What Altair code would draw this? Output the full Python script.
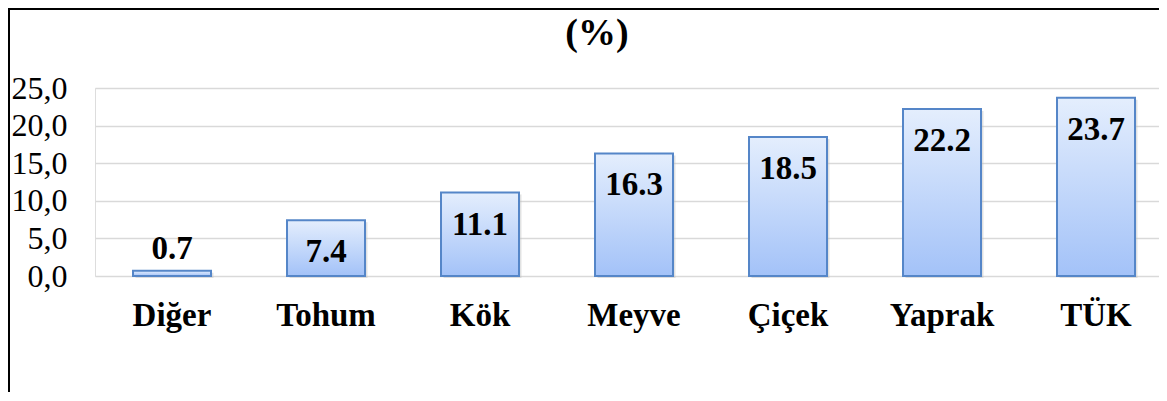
import altair as alt
import pandas as pd

categories = ["Diğer", "Tohum", "Kök", "Meyve", "Çiçek", "Yaprak", "TÜK"]
values = [0.7, 7.4, 11.1, 16.3, 18.5, 22.2, 23.7]
labels = ["0.7", "7.4", "11.1", "16.3", "18.5", "22.2", "23.7"]
y_ticks = [0, 5, 10, 15, 20, 25]
title_text = "(%)"

df = pd.DataFrame({"cat": categories, "val": values, "lab": labels})

FONT = "Liberation Serif"
W, H = 1064, 188

xscale = alt.Scale(paddingInner=0.4935, paddingOuter=0.2013, align=0.613)
yscale = alt.Scale(domain=[0, 25], nice=False)

x = alt.X("cat:N", sort=None, scale=xscale,
          axis=alt.Axis(title=None, labelAngle=0, ticks=False, domain=False,
                        labelFont=FONT, labelFontSize=33, labelFontWeight="bold",
                        labelColor="black", labelBaseline="alphabetic",
                        labelPadding=49))
y = alt.Y("val:Q", scale=yscale,
          axis=alt.Axis(title=None, values=y_ticks, ticks=False, domain=False,
                        grid=True, gridColor="#d9d9d9", gridWidth=1.5,
                        labelExpr="replace(format(datum.value, '.1f'), '.', ',')",
                        labelFont=FONT, labelFontSize=32, labelColor="black",
                        labelPadding=28))

base = alt.Chart(df)

shadow = base.mark_bar(color="#bfbfbf", opacity=0.45, xOffset=2.5, yOffset=2).encode(
    x=x, y=y)

grad = alt.Gradient(gradient="linear", x1=0, x2=0, y1=0, y2=1,
                    stops=[alt.GradientStop(color="#e4eefd", offset=0),
                           alt.GradientStop(color="#a3c2f8", offset=1)])
bars = base.mark_bar(color=grad, stroke="#5586c8", strokeWidth=2).encode(
    x=x, y=y)

txt_in = base.transform_filter("datum.val >= 5").mark_text(
    font=FONT, fontSize=33, fontWeight="bold", color="black",
    baseline="alphabetic", dy=42).encode(x=x, y=y, text="lab:N")
txt_out = base.transform_filter("datum.val < 5").mark_text(
    font=FONT, fontSize=33, fontWeight="bold", color="black",
    baseline="alphabetic", dy=-12).encode(x=x, y=y, text="lab:N")

title = alt.Chart(pd.DataFrame({"t": [title_text]})).mark_text(
    font=FONT, fontSize=38, fontWeight="bold", color="black",
    baseline="alphabetic", align="center").encode(
    text="t:N", x=alt.value(502), y=alt.value(-43))

border_left = alt.Chart(pd.DataFrame({"t": [title_text]})).mark_rule(
    color="black", strokeWidth=2).encode(
    x=alt.value(-86), y=alt.value(-80), y2=alt.value(310))
border_top = alt.Chart(pd.DataFrame({"t": [title_text]})).mark_rule(
    color="black", strokeWidth=2).encode(
    x=alt.value(-87), x2=alt.value(W + 10), y=alt.value(-79))

chart = alt.layer(shadow, bars, txt_in, txt_out, title, border_left, border_top).properties(
    width=W, height=H,
    autosize=alt.AutoSizeParams(type="none"),
    padding={"left": 87, "top": 80, "right": 0, "bottom": 116},
).configure_view(stroke=None).configure(background="white")

chart.save("out.html", embed_options={"renderer": "svg", "actions": False})
